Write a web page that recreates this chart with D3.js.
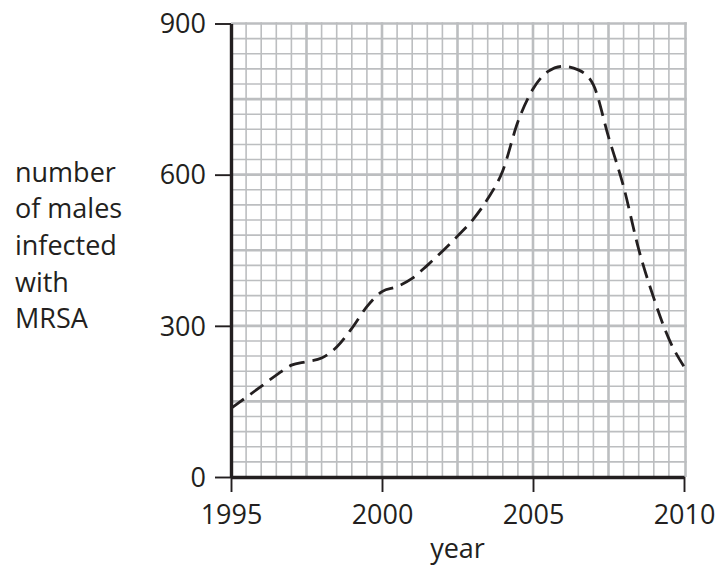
<!DOCTYPE html>
<html>
<head>
<meta charset="utf-8">
<script src="https://cdn.jsdelivr.net/npm/d3@7"></script>
<style>
  body { margin: 0; background: #fff; }
  text { font-family: "Open Sans", sans-serif; fill: #231f20; }
</style>
</head>
<body>
<div id="chart"></div>
<script>
// values
const years = [1995, 1995.5, 1996, 1996.5, 1997, 1997.5, 1998, 1998.5, 1999, 1999.5,
               2000, 2000.5, 2001, 2001.5, 2002, 2002.5, 2003, 2003.5, 2004, 2004.5,
               2005, 2005.5, 2006, 2006.5, 2007, 2007.5, 2008, 2008.5, 2009, 2009.5, 2010];
const males = [136, 158, 180, 202, 222, 229, 236, 258, 295, 338,
               368, 378, 394, 420, 448, 478, 510, 552, 608, 705,
               770, 805, 815, 808, 778, 675, 576, 452, 355, 274, 219];
const xTicks = [1995, 2000, 2005, 2010];
const yTicks = [0, 300, 600, 900];
const yLabelLines = ["number", "of males", "infected", "with", "MRSA"];

const width = 721, height = 570;
const margin = {top: 23.5, right: 37, bottom: 93, left: 231};
const ink = "#231f20", gridColor = "#bcbec0";

const svg = d3.select("#chart")
    .append("svg")
    .attr("width", width)
    .attr("height", height);

const x = d3.scaleLinear().domain([1995, 2010]).range([margin.left, width - margin.right]);
const y = d3.scaleLinear().domain([0, 900]).range([height - margin.bottom, margin.top]);

// grid: half-year / 30-unit squares, heavier every 5 squares
const gx = d3.range(1995.5, 2010.01, 0.5);
const gy = d3.range(30, 900.01, 30);

const grid = svg.append("g").attr("class", "grid");

grid.selectAll(".gx")
    .data(gx)
    .enter()
    .append("line")
    .attr("x1", d => x(d) + (d === 2010 ? 1.5 : 0))
    .attr("x2", d => x(d) + (d === 2010 ? 1.5 : 0))
    .attr("y1", y(0))
    .attr("y2", y(900) - 1.3)
    .attr("stroke", gridColor)
    .attr("stroke-width", d => (d % 2.5 === 0) ? 2.6 : 1.6);

grid.selectAll(".gy")
    .data(gy)
    .enter()
    .append("line")
    .attr("x1", x(1995))
    .attr("x2", x(2010) + 2.8)
    .attr("y1", d => y(d))
    .attr("y2", d => y(d))
    .attr("stroke", gridColor)
    .attr("stroke-width", d => (d % 150 === 0) ? 2.6 : 1.6);

// dashed curve
const line = d3.line()
    .x((d, i) => x(years[i]))
    .y(d => y(d))
    .curve(d3.curveMonotoneX);

svg.append("path")
    .datum(males)
    .attr("d", line)
    .attr("fill", "none")
    .attr("stroke", ink)
    .attr("stroke-width", 2.8)
    .attr("stroke-dasharray", "16,8");

// axes
const yAxis = svg.append("g")
    .attr("transform", `translate(${margin.left},0)`)
    .call(d3.axisLeft(y).tickValues(yTicks).tickSize(16).tickSizeOuter(0).tickPadding(9));

const xAxis = svg.append("g")
    .attr("transform", `translate(0,${height - margin.bottom})`)
    .call(d3.axisBottom(x).tickValues(xTicks).tickFormat(d3.format("d")).tickSize(15).tickSizeOuter(0).tickPadding(13));

[yAxis, xAxis].forEach(a => {
    a.select(".domain").attr("stroke", ink).attr("stroke-width", 3.4);
    a.selectAll(".tick line").attr("stroke", ink).attr("stroke-width", 1.9);
    a.selectAll(".tick text")
        .style("font-family", "'Open Sans', sans-serif")
        .style("font-size", "27px")
        .attr("fill", ink);
});

yAxis.selectAll(".tick text").attr("dy", "0.34em");

// axis titles
svg.append("text")
    .attr("x", (x(1995) + x(2010)) / 2)
    .attr("y", 558)
    .attr("text-anchor", "middle")
    .style("font-size", "27px")
    .text("year");

svg.append("g")
    .selectAll("text")
    .data(yLabelLines)
    .enter()
    .append("text")
    .attr("x", 15)
    .attr("y", (d, i) => 181.7 + i * 36.65)
    .style("font-size", "27px")
    .text(d => d);
</script>
</body>
</html>
